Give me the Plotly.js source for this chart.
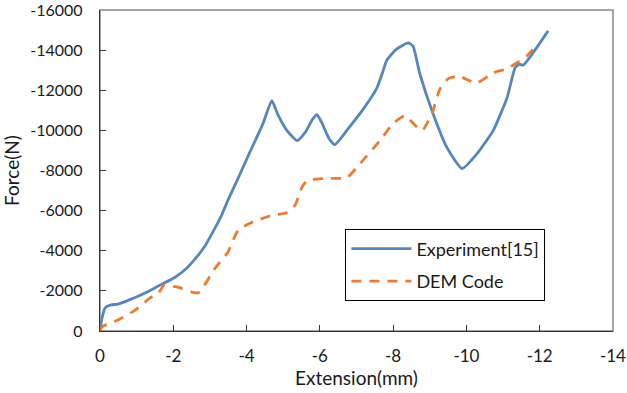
<!DOCTYPE html>
<html>
<head>
<meta charset="utf-8">
<script src="https://cdn.plot.ly/plotly-3.0.1.min.js"></script>
<style>html,body{margin:0;padding:0;background:#fff;}#chart{width:627px;height:393px;}</style>
</head>
<body>
<div id="chart"></div>
<script>
// Experiment[15] curve (extension mm, force N)
const expX = [0, -0.05, -0.14, -0.3, -0.49, -0.8, -1.23, -1.6, -2.05, -2.35, -2.59, -2.85, -3.06, -3.3, -3.49, -3.74, -4.1, -4.45, -4.69, -4.85, -5.1, -5.38, -5.6, -5.8, -5.92, -6.05, -6.25, -6.41, -6.8, -7.2, -7.56, -7.70, -7.83, -8.10, -8.41, -8.54, -8.73, -9.09, -9.47, -9.88, -10.29, -10.73, -11.11, -11.33, -11.45, -11.55, -12.23];
const expY = [0, -600, -1150, -1300, -1340, -1550, -1890, -2250, -2680, -3100, -3580, -4200, -4870, -5700, -6510, -7500, -8950, -10350, -11480, -10800, -10000, -9490, -9900, -10550, -10780, -10400, -9600, -9290, -10150, -11100, -12120, -12820, -13510, -14060, -14360, -14210, -12820, -10830, -9140, -8100, -8840, -9990, -11630, -13120, -13300, -13250, -14960];
// DEM Code curve
const demX = [0, -0.05, -0.49, -0.96, -1.36, -1.6, -1.75, -1.9, -2.13, -2.51, -2.68, -2.8, -3.14, -3.49, -3.77, -4.15, -4.69, -5.1, -5.32, -5.51, -5.65, -6.09, -6.74, -7.10, -7.64, -8.0, -8.32, -8.55, -8.79, -9.06, -9.28, -9.50, -9.83, -9.96, -10.29, -10.73, -11.11, -11.38, -11.65, -11.95];
const demY = [0, -200, -550, -1040, -1640, -1900, -2300, -2250, -2190, -1940, -1900, -2140, -3130, -3930, -5020, -5420, -5760, -5900, -6260, -7160, -7500, -7600, -7650, -8350, -9490, -10340, -10730, -10350, -9990, -10830, -12070, -12570, -12720, -12570, -12370, -12870, -13070, -13370, -13710, -14310];
// axis ticks
const xTickVals = [0, -2, -4, -6, -8, -10, -12, -14];
const xTickText = ['0', '-2', '-4', '-6', '-8', '-10', '-12', '-14'];
const yTickVals = [0, -2000, -4000, -6000, -8000, -10000, -12000, -14000, -16000];
const yTickText = ['0', '-2000', '-4000', '-6000', '-8000', '-10000', '-12000', '-14000', '-16000'];
const seriesNames = ['Experiment[15]', 'DEM Code'];

const fam = 'Lato, "Open Sans", sans-serif';
const txt = '#1a1a1a';

const traces = [
  {x: expX, y: expY, name: seriesNames[0], type: 'scatter', mode: 'lines', line: {color: '#5587bd', width: 2.8, shape: 'spline', smoothing: 0.5}, legendgroup: 'a'},
  {x: demX, y: demY, name: seriesNames[1], type: 'scatter', mode: 'lines', line: {color: '#ec7b32', width: 2.8, dash: '10px,8px', shape: 'spline', smoothing: 0.5}, legendgroup: 'b'}
];

const layout = {
  width: 627, height: 393,
  margin: {l: 100, r: 14, t: 10, b: 62},
  paper_bgcolor: '#fff', plot_bgcolor: '#fff',
  font: {family: fam, size: 16, color: txt},
  showlegend: true,
  legend: {x: 0.478, y: 0.317, xanchor: 'left', yanchor: 'top', bgcolor: '#fff', bordercolor: '#000', borderwidth: 1.2, font: {family: fam, size: 18, color: txt}, tracegroupgap: 6, itemwidth: 60},
  xaxis: {
    range: [0, -14.001], tickvals: xTickVals, ticktext: xTickText, ticks: 'inside', ticklen: 6, tickcolor: '#333',
    showgrid: false, zeroline: false, showline: true, linecolor: '#333', linewidth: 1.2,
    ticklabelstandoff: 9, ticklabeloverflow: 'allow',
    tickfont: {family: fam, size: 17, color: txt},
    title: {text: 'Extension(mm)', font: {family: fam, size: 19, color: txt}, standoff: 6}
  },
  yaxis: {
    range: [0, -16001], tickvals: yTickVals, ticktext: yTickText, ticks: 'inside', ticklen: 6, tickcolor: '#333',
    showgrid: false, zeroline: false, showline: true, linecolor: '#333', linewidth: 1.2,
    ticklabelstandoff: 13, ticklabeloverflow: 'allow',
    tickfont: {family: fam, size: 16, color: txt},
    title: {text: 'Force(N)', font: {family: fam, size: 19, color: txt}, standoff: 6}
  },
  shapes: [
    {type: 'rect', xref: 'paper', yref: 'paper', x0: 0, x1: 1, y0: 0, y1: 1, line: {color: '#888', width: 1.5}, layer: 'below'}
  ]
};

Plotly.newPlot('chart', traces, layout, {staticPlot: true, displayModeBar: false});
</script>
</body>
</html>
